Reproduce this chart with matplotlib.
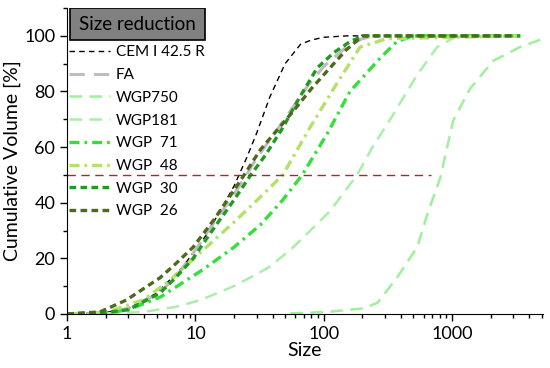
import matplotlib
matplotlib.use('Agg')
import matplotlib.pyplot as plt
import matplotlib.ticker as mticker
from matplotlib.patches import Rectangle

plt.rcParams['font.family'] = ['Lato', 'DejaVu Sans']

# values (size, cumulative volume %)
cem_x = [1, 2, 3, 5, 8, 12, 16, 20, 25, 30, 38, 50, 66, 80, 100, 150, 200]
cem_y = [0, 0.5, 2, 7.5, 17, 28, 38, 46, 56, 65, 78, 90, 97, 98.5, 99.5, 100, 100]

fa_x = [1, 2, 3, 5, 7, 10, 14, 20, 25, 30, 40, 55, 75, 100, 150, 200, 250]
fa_y = [0, 0.5, 2, 7, 13, 23, 33, 43, 50, 56, 64, 73, 82, 89, 96, 99, 100]

wgp750_x = [55, 107, 204, 262, 372, 535, 643, 810, 1020, 1380, 2090, 3390, 4870]
wgp750_y = [0.2, 0.7, 2, 4, 13, 24, 36, 49, 69.5, 81, 91, 96, 98.6]

wgp181_x = [1, 2, 3.9, 7, 11, 20, 32, 38, 58, 112, 182, 240, 330, 535, 766, 1100, 3400]
wgp181_y = [0, 0.2, 0.7, 2.5, 5, 10, 15, 17, 24, 37, 50, 60, 70, 86, 96, 100, 100]

wgp71_x = [1, 2, 3, 5.3, 11.5, 20, 32, 48, 68, 107, 160, 275, 372, 500, 3400]
wgp71_y = [0, 0.3, 1.5, 6, 16, 24, 32, 41, 50, 65, 80, 92, 98, 100, 100]

wgp48_x = [1, 2, 3.9, 6.3, 11.5, 20, 32, 48, 78, 127, 192, 310, 3400]
wgp48_y = [0, 0.5, 5, 12, 23, 33, 42, 50, 67, 83, 96, 99, 100]

wgp30_x = [1, 2, 3, 5.3, 7, 9.6, 14, 20, 27, 35, 48, 65, 89, 120, 161, 204, 3400]
wgp30_y = [0, 0.5, 1.5, 7.5, 13, 20, 31, 41, 50, 57, 67, 78, 88.5, 94, 98, 100, 100]

wgp26_x = [1, 1.8, 2.9, 5.3, 7, 9.6, 14, 19, 24, 32, 45, 58, 80, 107, 150, 200, 3000]
wgp26_y = [0, 0.7, 5, 13, 18, 24, 34, 43, 50, 59, 67, 73, 81, 87.5, 95, 100, 100]

ref_x = [1, 680]
ref_y = [50, 50]

fig = plt.figure(figsize=(5.5, 3.68), dpi=100)
ax = fig.add_axes([0.122, 0.147, 0.865, 0.831])

ax.plot(cem_x, cem_y, color='black', lw=1.0, dashes=(4, 3), label='CEM I 42.5 R')
ax.plot(fa_x, fa_y, color='#bdbdbd', lw=2.2, dashes=(5, 3), label='FA')
ax.plot(wgp750_x, wgp750_y, color='#9ef09a', lw=1.8, dashes=(5, 3), label='WGP750')
ax.plot(wgp181_x, wgp181_y, color='#a9efa9', lw=1.8, dashes=(5, 3), label='WGP181')
ax.plot(wgp71_x, wgp71_y, color='#33e03a', lw=2.4, dashes=(3, 1.5, 0.8, 1.5), label='WGP  71')
ax.plot(wgp48_x, wgp48_y, color='#b5e06a', lw=2.4, dashes=(3, 1.5, 0.8, 1.5), label='WGP  48')
ax.plot(wgp30_x, wgp30_y, color='#1f9a22', lw=2.4, dashes=(2, 1.3), label='WGP  30')
ax.plot(wgp26_x, wgp26_y, color='#4d6a1c', lw=2.4, dashes=(2, 1.3), label='WGP  26')
ax.plot(ref_x, ref_y, color='#a52a2a', lw=1.0, dashes=(6, 4))

ax.set_xscale('log')
ax.set_xlim(1, 5100)
ax.set_ylim(0, 110)
ax.set_yticks([0, 20, 40, 60, 80, 100])
ax.yaxis.set_minor_locator(mticker.MultipleLocator(10))
ax.xaxis.set_major_formatter(mticker.FuncFormatter(lambda v, p: '{:g}'.format(v)))
ax.tick_params(which='major', direction='out', length=5, width=1, labelsize=13)
ax.tick_params(which='minor', direction='out', length=3, width=1)
for s in ['top', 'right']:
    ax.spines[s].set_visible(False)

ax.set_xlabel('Size', fontsize=14, labelpad=0)
ax.set_ylabel('Cumulative Volume [%]', fontsize=14, labelpad=2)

# grey title box of the legend
ax.add_patch(Rectangle((0.0063, 0.895), 0.284, 0.105, transform=ax.transAxes,
                       facecolor='#808080', edgecolor='black', lw=1.2, zorder=5))
ax.text(0.148, 0.947, 'Size reduction', transform=ax.transAxes, fontsize=13.5,
        ha='center', va='center', zorder=6)

ax.legend(loc='upper left', bbox_to_anchor=(0.004, 0.878), frameon=False,
          fontsize=11, handlelength=2.7, handletextpad=0.35, labelspacing=0.57,
          borderpad=0, borderaxespad=0)

fig.savefig('out.png', dpi=100)
